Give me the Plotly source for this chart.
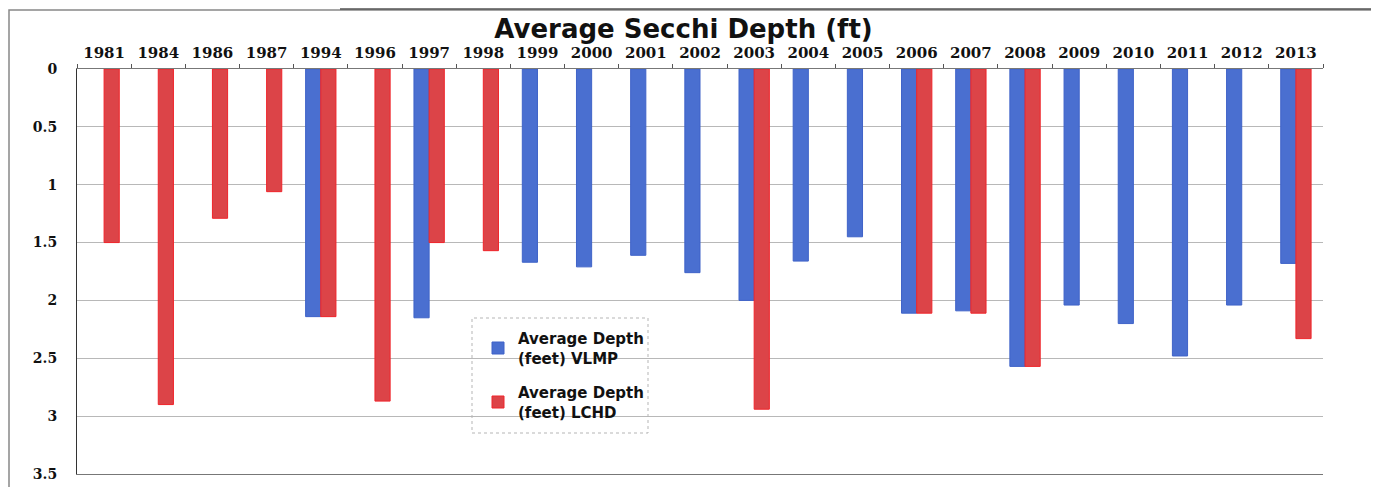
import plotly.graph_objects as go

years = ["1981", "1984", "1986", "1987", "1994", "1996", "1997", "1998", "1999", "2000",
         "2001", "2002", "2003", "2004", "2005", "2006", "2007", "2008", "2009", "2010",
         "2011", "2012", "2013"]
vlmp = [None, None, None, None, 2.14, None, 2.15, None, 1.67, 1.71,
        1.61, 1.76, 2.00, 1.66, 1.45, 2.11, 2.09, 2.57, 2.04, 2.20,
        2.48, 2.04, 1.68]
lchd = [1.50, 2.90, 1.29, 1.06, 2.14, 2.87, 1.50, 1.57, None, None,
        None, None, 2.94, None, None, 2.11, 2.11, 2.57, None, None,
        None, None, 2.33]
y_ticks = [0, 0.5, 1, 1.5, 2, 2.5, 3, 3.5]
y_tick_text = ["0", "0.5", "1", "1.5", "2", "2.5", "3", "3.5"]

# page body has an 8px margin; figure coordinates = screenshot - 8
W, H = 1371, 479
L, R, T, B = 69, 56, 61, 13
pw, ph = W - L - R, H - T - B

def px_x(x):
    return (x - L) / pw

def px_y(y):
    return (H - B - y) / ph

fig = go.Figure()
fig.add_trace(go.Bar(
    x=years, y=vlmp, name="Average Depth<br>(feet) VLMP", legendgroup="vlmp",
    marker=dict(color="#4a6fd0", line=dict(color="#3f63c8", width=1)),
))
fig.add_trace(go.Bar(
    x=years, y=lchd, name="Average Depth<br>(feet) LCHD", legendgroup="lchd",
    marker=dict(color="#dc4448", line=dict(color="#f0242a", width=1)),
))

fig.update_layout(
    width=W, height=H,
    margin=dict(l=L, r=R, t=T, b=B, autoexpand=False),
    paper_bgcolor="white", plot_bgcolor="white",
    barmode="group", bargap=0.44, bargroupgap=0,
    title=dict(text="<b>Average Secchi Depth (ft)</b>", x=675.5 / W, xanchor="center",
               y=1 - 21 / H, yanchor="middle",
               font=dict(family="DejaVu Sans", size=26, color="#111111")),
    showlegend=True,
    legend=dict(x=px_x(470), y=px_y(314), xanchor="left", yanchor="top",
                bgcolor="rgba(0,0,0,0)", borderwidth=0,
                font=dict(family="DejaVu Sans", size=15, color="#111111", weight="bold"),
                tracegroupgap=12, itemwidth=30),
    xaxis=dict(side="top", type="category", showline=True, linecolor="#777777",
               mirror=True, ticks="outside", tickson="boundaries", ticklen=4,
               tickcolor="#555555", showgrid=False, automargin=False,
               tickfont=dict(family="DejaVu Serif", size=15, color="#111111", weight="bold"),
               ticklabelstandoff=4),
    yaxis=dict(range=[3.5, 0], tickvals=y_ticks, ticktext=y_tick_text,
               showgrid=True, gridcolor="#b8b8b8", gridwidth=1, automargin=False,
               showline=True, linecolor="#333333", zeroline=False,
               ticks="", ticklabelstandoff=16,
               tickfont=dict(family="DejaVu Serif", size=14, color="#111111", weight="bold")),
    shapes=[
        dict(type="rect", xref="paper", yref="paper",
             x0=px_x(1), x1=px_x(1366), y0=px_y(495), y1=px_y(2),
             line=dict(color="#888888", width=1.5)),
        dict(type="line", xref="paper", yref="paper",
             x0=px_x(332), x1=px_x(1366), y0=px_y(1), y1=px_y(1),
             line=dict(color="#555555", width=1.5)),
        dict(type="rect", xref="paper", yref="paper",
             x0=px_x(464), x1=px_x(640), y0=px_y(425), y1=px_y(310),
             line=dict(color="#b5b5b5", width=1, dash="dot")),
    ],
)

fig.write_html("out.html")
